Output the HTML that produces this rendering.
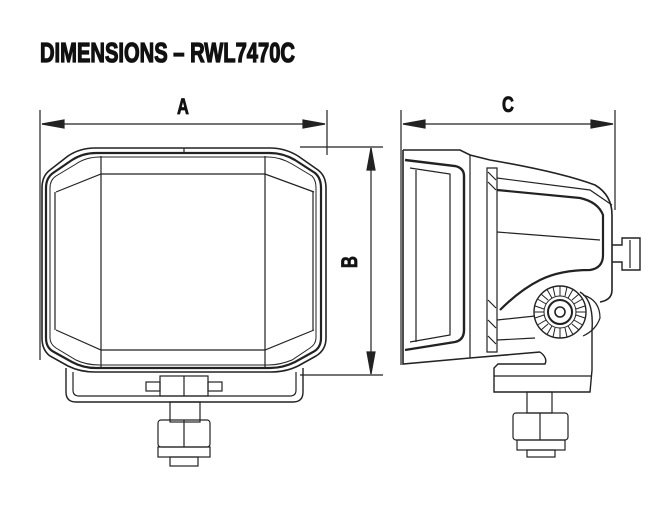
<!DOCTYPE html>
<html><head><style>html,body{margin:0;padding:0;background:#fff;width:654px;height:516px;overflow:hidden}</style></head>
<body>
<svg width="654" height="516" viewBox="0 0 654 516" xmlns="http://www.w3.org/2000/svg" fill="none" stroke="#222" stroke-width="1.2">
<text x="40" y="62" font-family="Liberation Sans, sans-serif" font-weight="bold" font-size="28" fill="#111" stroke="#111" stroke-width="1.3" textLength="255" lengthAdjust="spacingAndGlyphs">DIMENSIONS – RWL7470C</text>

<!-- A dimension -->
<line x1="40" y1="110" x2="40" y2="360"/>
<line x1="327" y1="110" x2="327" y2="155"/>
<line x1="42" y1="124" x2="325" y2="124"/>
<path d="M42 124 L64 120 L64 128Z M325 124 L303 120 L303 128Z" fill="#222"/>
<text font-family="Liberation Sans, sans-serif" font-weight="bold" font-size="22" fill="#111" stroke="#111" stroke-width="0.8" text-anchor="middle" transform="translate(183 114) scale(0.75 1)">A</text>

<!-- B dimension -->
<line x1="300" y1="147" x2="383" y2="147"/>
<line x1="300" y1="375" x2="383" y2="375"/>
<line x1="371" y1="148" x2="371" y2="374"/>
<path d="M371 148 L367 170 L375 170Z M371 374 L367 352 L375 352Z" fill="#222"/>
<text font-family="Liberation Sans, sans-serif" font-weight="bold" font-size="22" fill="#111" stroke="#111" stroke-width="0.8" text-anchor="middle" transform="translate(357 262) rotate(-90) scale(0.75 1)">B</text>

<!-- front body -->
<path d="M95 148 L270 148 Q285 148 298 156 L318 170 Q326 176 326 188 L326 338 Q326 350 316 356 L298 366 Q286 372 270 372 L95 372 Q80 372 68 366 L50 356 Q42 350 42 338 L42 188 Q42 176 50 170 L68 156 Q80 148 95 148Z" stroke-width="1.6"/>
<path d="M96 153 L270 153 Q283 153 295 160 L315 173 Q321 178 321 188 L321 338 Q321 348 313 352 L295 362 Q283 368 270 368 L96 368 Q83 368 72 362 L54 352 Q46 348 46 338 L46 188 Q46 178 53 173 L72 160 Q83 153 96 153Z" stroke-width="2.2"/>
<path d="M100 157 L268 157 Q280 157 292 164 L312 176 Q316 180 316 188 L316 338 Q316 344 310 348 L292 360 Q280 365 268 365 L100 365 Q86 365 76 360 L56 348 Q50 344 50 338 L50 188 Q50 180 56 176 L76 164 Q86 157 100 157Z" stroke-width="1"/>
<line x1="101" y1="156" x2="101" y2="367"/>
<line x1="265" y1="156" x2="265" y2="367"/>
<path d="M56 192 L101 174 L265 174 L314 192 M56 330 L101 350 L265 350 L314 330"/>
<path d="M55 192 L55 330 M313 192 L313 330"/>
<line x1="184" y1="148" x2="184" y2="153"/>

<!-- bracket -->
<path d="M66 368 L66 392 Q66 402 76 402 L293 402 Q303 402 303 392 L303 368" stroke-width="1.4"/>
<path d="M73 372 L73 390 Q73 396 79 396 L290 396 Q296 396 296 390 L296 372"/>
<rect x="146" y="382" width="14" height="9"/>
<rect x="208" y="382" width="14" height="9"/>
<rect x="160" y="376" width="48" height="20"/>
<line x1="184" y1="376" x2="184" y2="396"/>
<rect x="170" y="402" width="30" height="20"/>
<rect x="158" y="420" width="52" height="27" rx="3"/>
<line x1="184" y1="420" x2="184" y2="447"/>
<rect x="158" y="447" width="52" height="10"/>
<rect x="170" y="457" width="28" height="9"/>

<!-- C dimension -->
<line x1="401" y1="110" x2="401" y2="365"/>
<line x1="615" y1="110" x2="615" y2="210"/>
<line x1="403" y1="124" x2="613" y2="124"/>
<path d="M403 124 L425 120 L425 128Z M613 124 L591 120 L591 128Z" fill="#222"/>
<text font-family="Liberation Sans, sans-serif" font-weight="bold" font-size="22" fill="#111" stroke="#111" stroke-width="0.8" text-anchor="middle" transform="translate(508 112) scale(0.75 1)">C</text>

<!-- side body -->
<path d="M403 150 L460 150 L470 155 L490 160 Q560 172 595 185 Q612 195 612 215 L612 290 Q612 300 600 302" stroke-width="1.6"/>
<path d="M403 150 L403 364 L470 358 L540 352" stroke-width="1.6"/>
<path d="M405 160 L455 166 Q464 168 464 176 L464 330 Q464 340 455 342 L405 350" stroke-width="2.4"/>
<path d="M410 168 L450 174 L450 335 L410 342"/>
<line x1="416" y1="170" x2="416" y2="342"/>
<line x1="470" y1="155" x2="470" y2="358"/>
<path d="M487 168 L497 168 L497 352 L487 352Z"/>
<path d="M488 172 L496 180 M488 182 L496 190 M488 300 L496 308 M488 320 L496 328 M488 336 L496 344"/>
<path d="M497 190 L580 198 Q598 202 603 215 L603 255 Q603 268 590 270 Q560 270 540 280 Q520 290 500 310" stroke-width="2.2"/>
<path d="M497 232 L600 240"/>
<path d="M497 178 L590 190 L612 205"/>
<path d="M497 320 L535 316 M497 340 L535 338"/>
<path d="M583 295 Q600 300 600 318 Q596 330 583 336" />
<path d="M612 245 L622 245 L622 238 L640 238 L640 270 L622 270 L622 262 L612 262" stroke-width="1.4"/>
<line x1="630" y1="240" x2="630" y2="268"/>
<!-- pivot bracket -->
<path d="M540 352 Q548 358 545 364 L498 364 L494 368 L494 392 L590 392 L592 370 L592 330 Q594 300 580 292" stroke-width="1.4"/>
<line x1="494" y1="376" x2="591" y2="376"/>
<circle cx="560" cy="312" r="26" fill="#fff" stroke-width="1.4"/>
<g stroke-width="1">
<circle cx="560" cy="312" r="16"/>
<path d="M560 286 L560 296 M573 289.5 L568 298.1 M582.5 299 L573.9 304 M586 312 L576 312 M582.5 325 L573.9 320 M573 334.5 L568 325.9 M560 338 L560 328 M547 334.5 L552 325.9 M537.5 325 L546.1 320 M534 312 L544 312 M537.5 299 L546.1 304 M547 289.5 L552 298.1"/>
<path d="M567 287 L565 296 M579 294 L572 300 M585 306 L576 309 M585 318 L576 315 M579 330 L572 324 M567 337 L565 328 M553 337 L555 328 M541 330 L548 324 M535 318 L544 315 M535 306 L544 309 M541 294 L548 300 M553 287 L555 296"/>
</g>
<circle cx="560" cy="312" r="12" fill="#fff" stroke-width="2"/>
<circle cx="560" cy="312" r="5" stroke-width="1.6"/>
<rect x="527" y="392" width="25" height="21"/>
<rect x="513" y="413" width="55" height="27" rx="3"/>
<line x1="540" y1="413" x2="540" y2="440"/>
<rect x="517" y="440" width="48" height="10"/>
<rect x="527" y="450" width="28" height="7"/>
</svg>
</body></html>
